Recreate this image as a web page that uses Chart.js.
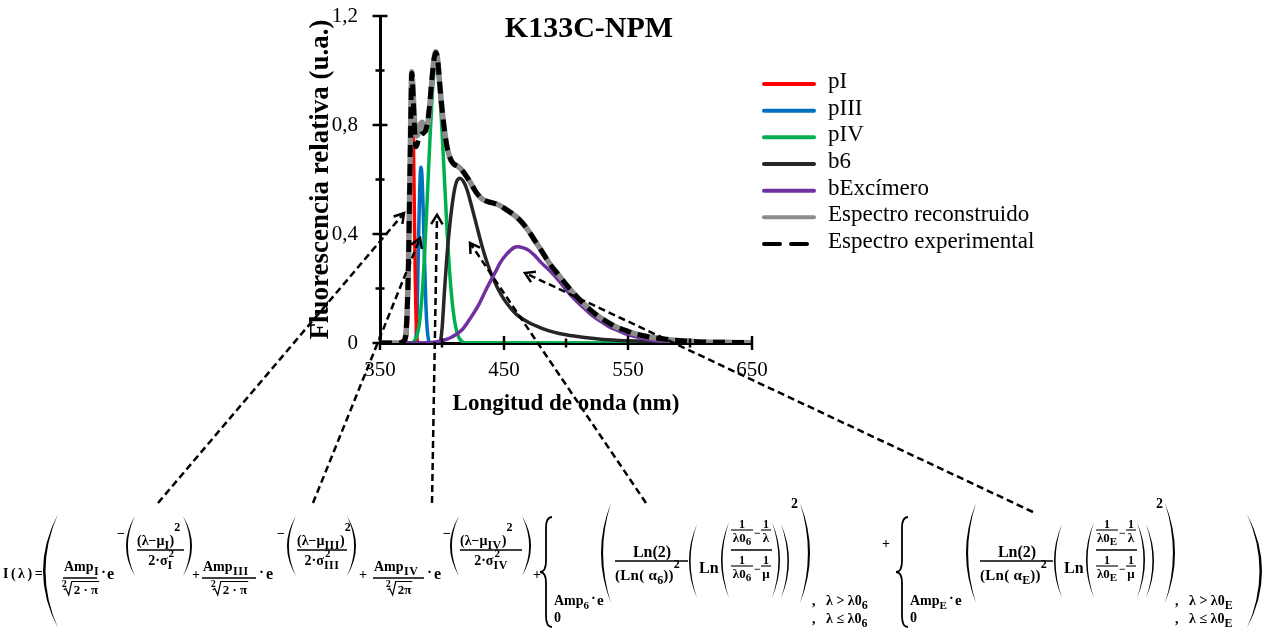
<!DOCTYPE html>
<html>
<head>
<meta charset="utf-8">
<title>K133C-NPM</title>
<script src="https://cdn.jsdelivr.net/npm/chart.js@4.4.1/dist/chart.umd.min.js"></script>
<style>
  html, body { margin: 0; padding: 0; background: #fff; }
  canvas { display: block; }
</style>
</head>
<body>
<canvas id="c" width="1268" height="630"></canvas>
<script>
// ---- Spectral data (wavelength in nm, relative fluorescence) ----
const pI_nm  = [350, 368, 370, 371, 372, 373, 374, 375, 375.8, 376.5, 377, 377.5, 378, 378.5, 379, 379.5, 380, 381];
const pI_val = [0, 0, 0.004, 0.015, 0.05, 0.20, 0.50, 0.82, 0.95, 0.86, 0.72, 0.55, 0.38, 0.23, 0.11, 0.04, 0.01, 0];

const pIII_nm  = [350, 378, 379, 380, 381, 382, 383, 384, 385, 386, 387, 388, 389, 390];
const pIII_val = [0, 0, 0.02, 0.12, 0.36, 0.56, 0.645, 0.60, 0.46, 0.29, 0.14, 0.055, 0.015, 0];

const pIV_nm  = [350, 376, 378, 380, 382, 384, 386, 388, 390, 392, 394, 395, 396, 398, 400, 402, 404, 406, 408, 410, 412, 414, 416, 419, 650];
const pIV_val = [0, 0, 0.01, 0.03, 0.08, 0.18, 0.33, 0.52, 0.72, 0.90, 1.02, 1.04, 1.02, 0.93, 0.78, 0.60, 0.42, 0.27, 0.16, 0.085, 0.04, 0.017, 0.006, 0.001, 0];

const b6_nm  = [350, 397, 398.5, 400, 402, 404, 406, 408, 410, 412, 414.5, 417, 420, 424, 428, 432, 436, 440, 445, 450, 455, 460, 470, 480, 490, 500, 515, 530, 550, 575, 600, 650];
const b6_val = [0, 0, 0.005, 0.05, 0.19, 0.32, 0.42, 0.50, 0.56, 0.595, 0.605, 0.595, 0.565, 0.50, 0.43, 0.36, 0.30, 0.25, 0.20, 0.16, 0.13, 0.105, 0.075, 0.055, 0.04, 0.03, 0.02, 0.013, 0.008, 0.004, 0.002, 0];

const bExc_nm  = [350, 385, 395, 402, 408, 416, 422, 429, 436, 443, 447, 452, 458, 461, 465, 470, 475, 480, 487, 494, 501, 507, 514, 520, 527, 534, 541, 548, 554, 561, 568, 580, 600, 620, 650];
const bExc_val = [0, 0, 0.004, 0.011, 0.022, 0.048, 0.085, 0.135, 0.20, 0.26, 0.295, 0.325, 0.35, 0.353, 0.35, 0.34, 0.32, 0.295, 0.265, 0.23, 0.19, 0.16, 0.13, 0.105, 0.082, 0.062, 0.047, 0.034, 0.025, 0.017, 0.011, 0.005, 0.0015, 0, 0];

const rec_nm  = [350, 366, 368, 370, 371, 372, 373, 374, 375, 375.6, 376.5, 377.7, 379.5, 381, 382.5, 384, 385.5, 387.5, 389.5, 391.5, 393.5, 395, 396.5, 398, 400, 402, 404, 406, 408, 410, 413, 416, 420, 424, 428, 432, 436, 440, 445, 450, 455, 460, 465, 470, 475, 480, 487, 494, 500, 507, 514, 520, 527, 534, 541, 548, 554, 560, 567, 578, 590, 605, 620, 635, 650];
const rec_val = [0, 0, 0.004, 0.012, 0.04, 0.13, 0.30, 0.58, 0.88, 0.995, 0.94, 0.83, 0.76, 0.77, 0.80, 0.81, 0.795, 0.78, 0.84, 0.94, 1.04, 1.069, 1.04, 0.96, 0.86, 0.78, 0.72, 0.685, 0.665, 0.655, 0.648, 0.635, 0.61, 0.58, 0.55, 0.53, 0.52, 0.515, 0.508, 0.495, 0.48, 0.463, 0.44, 0.41, 0.375, 0.34, 0.29, 0.25, 0.215, 0.178, 0.145, 0.12, 0.095, 0.075, 0.058, 0.046, 0.036, 0.029, 0.022, 0.015, 0.009, 0.005, 0.003, 0.002, 0.001];

const exp_nm  = [350, 366, 368, 370, 371, 372, 373, 374, 375, 375.6, 376.5, 377.7, 379.2, 381, 383, 385, 387.5, 389.5, 391.5, 393.5, 395, 396.5, 398, 400, 402, 404, 406, 408, 410, 413, 416, 420, 424, 428, 432, 436, 440, 445, 450, 455, 460, 465, 470, 475, 480, 487, 494, 500, 507, 514, 520, 527, 534, 541, 548, 554, 560, 567, 578, 590, 605, 620, 635, 650];
const exp_val = [0, 0, 0.004, 0.012, 0.04, 0.13, 0.30, 0.58, 0.87, 0.99, 0.93, 0.80, 0.72, 0.745, 0.765, 0.77, 0.79, 0.85, 0.95, 1.04, 1.065, 1.04, 0.96, 0.86, 0.78, 0.72, 0.685, 0.665, 0.655, 0.648, 0.635, 0.61, 0.58, 0.55, 0.53, 0.52, 0.515, 0.508, 0.495, 0.48, 0.463, 0.44, 0.41, 0.375, 0.34, 0.29, 0.25, 0.215, 0.178, 0.145, 0.12, 0.095, 0.075, 0.058, 0.046, 0.036, 0.029, 0.022, 0.015, 0.009, 0.005, 0.003, 0.002, 0.001];

// axis ticks
const xTicks = [350, 400, 450, 500, 550, 600, 650];
const yTicks = [0, 0.2, 0.4, 0.6, 0.8, 1.0, 1.2];

// arrows from each term of the fitting function to its band:
// tails sit under the formula (canvas px), heads point at (wavelength, intensity)
const arrowTails = [[158, 503], [313, 503], [432, 503], [646, 503], [1033, 512]];
const arrowHeads = [[369.4, 0.477], [382.3, 0.385], [396, 0.47], [422.6, 0.367], [466.9, 0.257]];

const FAM = '"Liberation Serif", "Times New Roman", serif';

const pts = (xs, ys) => xs.map((x, i) => ({ x, y: ys[i] }));

// z: stacking (lower values are painted on top)
const seriesDefs = [
  { label: 'pI',                    xs: pI_nm,   ys: pI_val,   color: '#FF0000', width: 3.5, z: 5 },
  { label: 'pIII',                  xs: pIII_nm, ys: pIII_val, color: '#0070C0', width: 3.5, z: 6 },
  { label: 'pIV',                   xs: pIV_nm,  ys: pIV_val,  color: '#00B050', width: 3.5, z: 4 },
  { label: 'b6',                    xs: b6_nm,   ys: b6_val,   color: '#262626', width: 3.5, z: 3 },
  { label: 'bExcímero',             xs: bExc_nm, ys: bExc_val, color: '#7030A0', width: 3.5, z: 2 },
  { label: 'Espectro reconstruido', xs: rec_nm,  ys: rec_val,  color: '#8C8C8C', width: 5.5, z: 1 },
  { label: 'Espectro experimental', xs: exp_nm,  ys: exp_val,  color: '#000000', width: 5, dash: [12, 7], z: 0 }
];

const datasets = seriesDefs.map(s => ({
  label: s.label,
  data: pts(s.xs, s.ys),
  borderColor: s.color,
  backgroundColor: s.color,
  borderWidth: s.width,
  borderDash: s.dash || [],
  fill: false,
  pointRadius: 0,
  order: s.z
}));

// ---------- small drawing helpers for the formula ----------
function font(size, normal) { return (normal ? '' : 'bold ') + size + 'px ' + FAM; }
function tw(ctx, s, size, sp) { ctx.font = font(size); ctx.letterSpacing = (sp || 0) + 'px'; const w = ctx.measureText(s).width; ctx.letterSpacing = '0px'; return w; }
function put(ctx, s, x, y, size, align, sp, normal) {
  ctx.font = font(size, normal);
  ctx.letterSpacing = (sp || 0) + 'px';
  ctx.textAlign = align || 'left';
  ctx.textBaseline = 'alphabetic';
  ctx.fillText(s, x, y);
  const w = ctx.measureText(s).width;
  ctx.letterSpacing = '0px';
  return w;
}
function hl(ctx, x1, x2, y, w) {
  ctx.lineWidth = w || 1;
  ctx.beginPath(); ctx.moveTo(x1, y); ctx.lineTo(x2, y); ctx.stroke();
}
function paren(ctx, xa, xb, y1, y2, open, t) {
  const m = (y1 + y2) / 2;
  ctx.beginPath();
  if (open) {
    ctx.moveTo(xb, y1);
    ctx.quadraticCurveTo(2 * xa - xb, m, xb, y2);
    ctx.quadraticCurveTo(2 * (xa + t) - xb, m, xb, y1);
  } else {
    ctx.moveTo(xa, y1);
    ctx.quadraticCurveTo(2 * xb - xa, m, xa, y2);
    ctx.quadraticCurveTo(2 * (xb - t) - xa, m, xa, y1);
  }
  ctx.fill();
}
function brace(ctx, xa, xb, y1, y2) {
  const xm = (xa + xb) / 2, ym = (y1 + y2) / 2, h = (y2 - y1) / 2;
  ctx.lineWidth = 1.8;
  ctx.beginPath();
  ctx.moveTo(xb, y1);
  ctx.quadraticCurveTo(xm, y1, xm, y1 + h * 0.2);
  ctx.lineTo(xm, ym - h * 0.2);
  ctx.quadraticCurveTo(xm, ym, xa, ym);
  ctx.quadraticCurveTo(xm, ym, xm, ym + h * 0.2);
  ctx.lineTo(xm, y2 - h * 0.2);
  ctx.quadraticCurveTo(xm, y2, xb, y2);
  ctx.stroke();
}
function radical(ctx, x, yb, yt, xe) {
  ctx.lineWidth = 1.2;
  ctx.beginPath();
  ctx.moveTo(x, yb - 5); ctx.lineTo(x + 2, yb - 6.5); ctx.lineTo(x + 5, yb);
  ctx.lineTo(x + 8, yt); ctx.lineTo(xe, yt);
  ctx.stroke();
}

// one Gaussian term:  Amp/(²√…) · e^(−(λ−μ)²/(2σ²))
function gauss(ctx, g) {
  let w = put(ctx, 'Amp', g.amp, 571, 14);
  put(ctx, g.sub, g.amp + w + 0.5, 575, 12, 'left', 0.5);
  hl(ctx, g.amp - 1, g.bar2, 578, 1.3);
  const rw = tw(ctx, g.rad, 13);
  const rx = (g.amp - 1 + g.bar2) / 2 - (rw + 12) / 2;
  put(ctx, '2', rx, 587, 10);
  radical(ctx, rx + 2, 595, 581.5, rx + 12 + rw + 1);
  put(ctx, g.rad, rx + 12, 594, 13);
  put(ctx, '·', g.dot, 577, 15);
  put(ctx, 'e', g.e, 579, 16);
  put(ctx, '−', g.minus, 538, 14);
  paren(ctx, g.p1, g.p1 + 9, 516, 576, true, 1.9);
  // numerator (λ−μ)²
  let x = g.num;
  x += put(ctx, '(λ−μ', x, 545, 14);
  x += put(ctx, g.sub, x, 549, 12, 'left', 0.5);
  x += put(ctx, ')', x, 545, 14);
  put(ctx, '2', x, 531, 12);
  hl(ctx, g.num, g.numEnd, 550, 1.3);
  // denominator 2·σ with stacked index
  const dw = tw(ctx, '2·σ', 14);
  const sw = tw(ctx, g.sub, 12, 0.5);
  const dx = (g.num + g.numEnd) / 2 - (dw + sw) / 2;
  put(ctx, '2·σ', dx, 565, 14);
  put(ctx, '2', dx + dw + 1, 557, 11);
  put(ctx, g.sub, dx + dw, 569, 12, 'left', 0.5);
  paren(ctx, g.p2, g.p2 + 9, 516, 576, false, 1.9);
  put(ctx, '+', g.plus, 579, 14);
}

function smallFrac(ctx, x1, x2, barY, den, sub) {
  put(ctx, '1', (x1 + x2) / 2, barY - 2, 12, 'center');
  hl(ctx, x1, x2, barY, 1.1);
  const w = tw(ctx, den, 13) + (sub ? tw(ctx, sub, 11) : 0);
  let x = (x1 + x2) / 2 - w / 2;
  x += put(ctx, den, x, barY + 12, 13);
  if (sub) put(ctx, sub, x, barY + 15, 11);
}

// log-normal band term, written as a two-case function
function piece(ctx, p) {
  brace(ctx, p.brace, p.brace + 12, 517, 627);
  let x = p.amp;
  x += put(ctx, 'Amp', x, 605, 14);
  x += put(ctx, p.sub, x, 609, 11);
  put(ctx, '·', x + 2, 603, 14);
  put(ctx, 'e', x + 8, 605, 15);
  put(ctx, '0', p.amp, 622, 14);

  const X = p.ex;
  paren(ctx, X + 1, X + 11, 503, 603, true, 2.1);
  put(ctx, 'Ln(2)', X + 52, 557, 16, 'center');
  hl(ctx, X + 15, X + 88, 561, 1.3);
  let d = X + 15;
  d += put(ctx, '(Ln( α', d, 580, 15, 'left', 0.3);
  d += put(ctx, p.sub, d, 584, 12);
  d += put(ctx, '))', d, 580, 15, 'left', 0.3);
  put(ctx, '2', d, 568, 12);
  paren(ctx, X + 89, X + 97, 524, 598, true, 1.6);
  put(ctx, 'Ln', X + 99, 573, 16);
  paren(ctx, X + 121, X + 129, 522, 598, true, 1.6);
  const f1 = X + 131, f2 = X + 153, g1 = X + 161, g2 = X + 171;
  smallFrac(ctx, f1, f2, 530, 'λ0', p.sub);
  put(ctx, '−', X + 154, 537, 12);
  smallFrac(ctx, g1, g2, 530, 'λ');
  hl(ctx, f1, g2 + 1, 550, 1.3);
  smallFrac(ctx, f1, f2, 566, 'λ0', p.sub);
  put(ctx, '−', X + 154, 573, 12);
  smallFrac(ctx, g1, g2, 566, 'μ');
  paren(ctx, X + 172, X + 180, 522, 598, false, 1.6);
  paren(ctx, X + 181, X + 189, 524, 598, false, 1.6);
  put(ctx, '2', X + 191, 508, 14);
  paren(ctx, X + 200, X + 210, 503, 603, false, 2.1);

  let c = p.cond;
  c += put(ctx, ',   λ > λ0', c, 605, 14);
  put(ctx, p.sub, c, 609, 12);
  c = p.cond;
  c += put(ctx, ',   λ ≤ λ0', c, 623, 14);
  put(ctx, p.sub, c, 627, 12);
}

function drawFormula(ctx) {
  ctx.fillStyle = '#000';
  ctx.strokeStyle = '#000';
  put(ctx, 'I(λ)=', 3, 578, 14, 'left', 2.5);
  paren(ctx, 43, 58, 514, 628, true, 2.5);

  gauss(ctx, { amp: 64,  bar2: 97,  sub: 'I',   rad: '2 · π', dot: 101, e: 107, minus: 117, p1: 126, num: 137, numEnd: 184, p2: 183, plus: 192 });
  gauss(ctx, { amp: 203, bar2: 256, sub: 'III', rad: '2 · π', dot: 259, e: 266, minus: 277, p1: 287, num: 297, numEnd: 347, p2: 347, plus: 359 });
  gauss(ctx, { amp: 374, bar2: 424, sub: 'IV',  rad: '2π',    dot: 427, e: 434, minus: 443, p1: 450, num: 460, numEnd: 522, p2: 522, plus: 533 });

  piece(ctx, { brace: 540, amp: 554, ex: 600, cond: 812, sub: '6' });
  put(ctx, '+', 882, 548, 14);
  piece(ctx, { brace: 896, amp: 910, ex: 965, cond: 1175, sub: 'E' });

  paren(ctx, 1247, 1262, 514, 628, false, 2.5);
}

// ---------- plugin: title, crossing tick marks, legend, formula and arrows ----------
const decor = {
  id: 'decor',
  afterDraw(chart) {
    const ctx = chart.ctx;
    const xs = chart.scales.x, ys = chart.scales.y;
    const area = chart.chartArea;
    ctx.save();
    ctx.strokeStyle = '#000';
    ctx.fillStyle = '#000';

    // tick marks crossing both axes
    ctx.lineWidth = 2.5;
    yTicks.forEach((v, i) => {
      const y = ys.getPixelForValue(v);
      const L = i % 2 === 0 ? 7.5 : 4.5;
      ctx.beginPath(); ctx.moveTo(area.left - L, y); ctx.lineTo(area.left + L, y); ctx.stroke();
    });
    xTicks.forEach((v, i) => {
      const x = xs.getPixelForValue(v);
      const L = i % 2 === 0 ? 7 : 4.5;
      ctx.beginPath(); ctx.moveTo(x, area.bottom - L); ctx.lineTo(x, area.bottom + L); ctx.stroke();
    });

    // chart title
    ctx.font = 'bold 30px ' + FAM;
    ctx.textAlign = 'center';
    ctx.textBaseline = 'alphabetic';
    ctx.fillText('K133C-NPM', 589, 37);

    // legend
    chart.data.datasets.forEach((ds, i) => {
      const y = 84 + i * 26.67;
      ctx.save();
      ctx.strokeStyle = ds.borderColor;
      ctx.lineWidth = 4;
      ctx.lineCap = 'round';
      if (ds.borderDash && ds.borderDash.length) ctx.setLineDash([16, 11]);
      ctx.beginPath(); ctx.moveTo(764, y); ctx.lineTo(814, y); ctx.stroke();
      ctx.restore();
      ctx.font = '23px ' + FAM;
      ctx.textAlign = 'left';
      ctx.textBaseline = 'middle';
      ctx.fillStyle = '#000';
      ctx.fillText(ds.label, 828, y - 2);
    });

    // fitting function
    drawFormula(ctx);

    // dashed arrows
    ctx.strokeStyle = '#000';
    arrowTails.forEach((t, i) => {
      const hx = xs.getPixelForValue(arrowHeads[i][0]);
      const hy = ys.getPixelForValue(arrowHeads[i][1]);
      ctx.lineWidth = 2.5;
      ctx.setLineDash([7, 4]);
      ctx.beginPath(); ctx.moveTo(t[0], t[1]); ctx.lineTo(hx, hy); ctx.stroke();
      ctx.setLineDash([]);
      const a = Math.atan2(hy - t[1], hx - t[0]);
      const L = 11, s = 0.55;
      ctx.beginPath();
      ctx.moveTo(hx - L * Math.cos(a - s), hy - L * Math.sin(a - s));
      ctx.lineTo(hx, hy);
      ctx.lineTo(hx - L * Math.cos(a + s), hy - L * Math.sin(a + s));
      ctx.stroke();
    });
    ctx.restore();
  }
};

new Chart(document.getElementById('c'), {
  type: 'line',
  data: { datasets },
  options: {
    responsive: false,
    animation: false,
    devicePixelRatio: 1,
    layout: { padding: { left: 305, right: 516, top: 16, bottom: 212 } },
    plugins: {
      legend: { display: false },
      title: { display: false },
      tooltip: { enabled: false }
    },
    elements: {
      point: { radius: 0 },
      line: { cubicInterpolationMode: 'monotone', borderJoinStyle: 'round' }
    },
    scales: {
      x: {
        type: 'linear',
        min: 350, max: 650,
        afterBuildTicks: s => { s.ticks = xTicks.map(v => ({ value: v })); },
        afterFit: s => { s.height = 75; s.paddingLeft = 0; s.paddingRight = 0; },
        ticks: {
          autoSkip: false, maxRotation: 0, padding: 15, color: '#000',
          font: { family: FAM, size: 21 },
          callback: (v, i) => (i % 2 === 0 ? String(v) : '')
        },
        grid: { display: false, drawTicks: false },
        border: { display: true, color: '#000', width: 3 },
        title: {
          display: true, text: 'Longitud de onda (nm)', color: '#000',
          font: { family: FAM, size: 23, weight: 'bold' }, padding: { top: 0, bottom: 0 }
        }
      },
      y: {
        min: 0, max: 1.2,
        afterBuildTicks: s => { s.ticks = yTicks.map(v => ({ value: v })); },
        afterFit: s => { s.width = 75; s.paddingTop = 0; s.paddingBottom = 0; },
        ticks: {
          autoSkip: false, padding: 22, color: '#000',
          font: { family: FAM, size: 21 },
          callback: (v, i) => (i % 2 !== 0 ? '' : (v === 0 ? '0' : v.toFixed(1).replace('.', ',')))
        },
        grid: { display: false, drawTicks: false },
        border: { display: true, color: '#000', width: 3 },
        title: {
          display: true, text: 'Fluorescencia relativa (u.a.)', color: '#000',
          font: { family: FAM, size: 27, weight: 'bold' }, padding: 0
        }
      }
    }
  },
  plugins: [decor]
});
</script>
</body>
</html>
